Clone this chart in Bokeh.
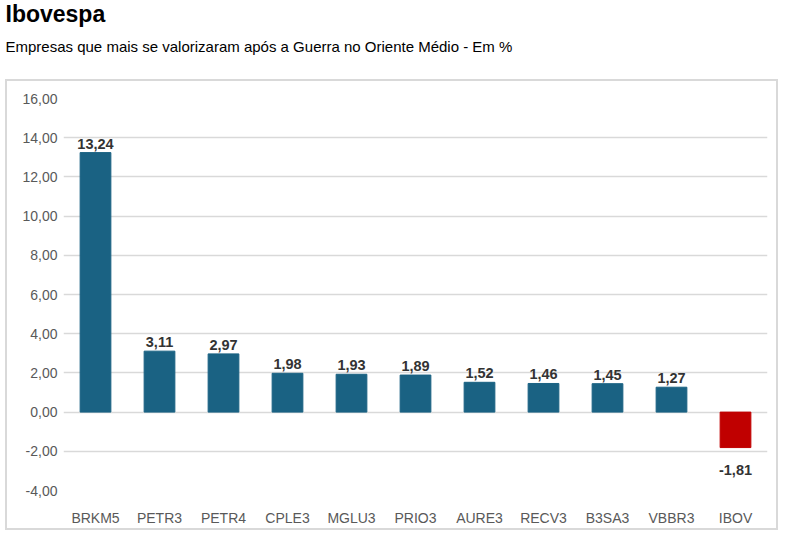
from bokeh.plotting import figure
from bokeh.layouts import column
from bokeh.models import (ColumnDataSource, Range1d, FactorRange, CustomJSTickFormatter,
                          FixedTicker, Title)
from bokeh.core.properties import value
from bokeh.embed import file_html
from bokeh.resources import INLINE

# ---- data ----
tickers = ["BRKM5", "PETR3", "PETR4", "CPLE3", "MGLU3", "PRIO3",
           "AURE3", "RECV3", "B3SA3", "VBBR3", "IBOV"]
values = [13.24, 3.11, 2.97, 1.98, 1.93, 1.89, 1.52, 1.46, 1.45, 1.27, -1.81]
y_ticks = [-4, -2, 0, 2, 4, 6, 8, 10, 12, 14, 16]
title_text = "Ibovespa"
subtitle_text = "Empresas que mais se valorizaram após a Guerra no Oriente Médio - Em %"

FONT = "Liberation Sans"
BLUE = "#1a6283"
RED = "#c00000"

colors = [BLUE if v >= 0 else RED for v in values]
labels = [f"{v:.2f}".replace(".", ",") for v in values]

pos = ColumnDataSource(dict(
    t=[t for t, v in zip(tickers, values) if v >= 0],
    v=[v for v in values if v >= 0],
    c=[c for c, v in zip(colors, values) if v >= 0],
    l=[l for l, v in zip(labels, values) if v >= 0]))
neg = ColumnDataSource(dict(
    t=[t for t, v in zip(tickers, values) if v < 0],
    v=[v for v in values if v < 0],
    c=[c for c, v in zip(colors, values) if v < 0],
    l=[l for l, v in zip(labels, values) if v < 0]))

# chart frame borders (column aligns the frames of both figures)
FL, FR, FT, FB = 56, 13, 17, 42

# ---- header (title + subtitle as Title objects) ----
HW, HH = 790, 79
head = figure(width=HW, height=HH, x_range=Range1d(0, 1), y_range=Range1d(0, 1),
              x_axis_type=None, y_axis_type=None, output_backend="svg",
              toolbar_location=None, min_border_left=FL, min_border_right=FR,
              min_border_top=0, min_border_bottom=0,
              styles={"margin-top": "-6px", "margin-bottom": "6px"})
head.outline_line_color = None
head.grid.visible = False
head.add_layout(Title(text=subtitle_text, align="left", offset=5 - FL, standoff=10,
                      text_font=FONT, text_font_size="15px", text_font_style="normal",
                      text_color="#000000"), "above")
head.add_layout(Title(text=title_text, align="left", offset=5 - FL, standoff=8,
                      text_font=FONT, text_font_size="23px", text_font_style="bold",
                      text_color="#000000"), "above")

# ---- chart ----
W, H = 773, 451

p = figure(width=W, height=H, x_range=FactorRange(*tickers, range_padding=0),
           y_range=Range1d(y_ticks[0], y_ticks[-1]),
           output_backend="svg", toolbar_location=None,
           min_border_left=FL, min_border_right=FR, min_border_top=FT, min_border_bottom=FB,
           styles={"border": "2px solid #d9d9d9", "margin-left": "5px"})
p.outline_line_color = None
p.background_fill_color = "white"
p.border_fill_color = "white"

p.xgrid.grid_line_color = None
p.ygrid.grid_line_color = "#d9d9d9"
p.ygrid.grid_line_width = 1.5

p.yaxis.ticker = FixedTicker(ticks=y_ticks)
p.yaxis.formatter = CustomJSTickFormatter(code="return tick.toFixed(2).replace('.', ',');")
for ax in (p.xaxis[0], p.yaxis[0]):
    ax.axis_line_color = None
    ax.major_tick_line_color = None
    ax.minor_tick_line_color = None
    ax.major_tick_out = 0
    ax.major_tick_in = 0
    ax.minor_tick_out = 0
    ax.major_label_text_font = FONT
    ax.major_label_text_font_size = "14px"
    ax.major_label_text_color = "#595959"
p.yaxis.major_label_standoff = 6
p.xaxis.major_label_standoff = 19

for src in (pos, neg):
    p.vbar(x="t", top="v", bottom=0, width=0.48, fill_color="c", line_color="c", source=src)

p.text(x="t", y="v", text="l", source=pos, text_align="center", text_baseline="alphabetic",
       y_offset=-9, text_font=value(FONT), text_font_style="bold", text_font_size="14.5px",
       text_color="#333333")
p.text(x="t", y="v", text="l", source=neg, text_align="center", text_baseline="alphabetic",
       y_offset=22, text_font=value(FONT), text_font_style="bold", text_font_size="14.5px",
       text_color="#333333")

layout = column(head, p, spacing=0)
open("out.html", "w").write(file_html(layout, INLINE))
